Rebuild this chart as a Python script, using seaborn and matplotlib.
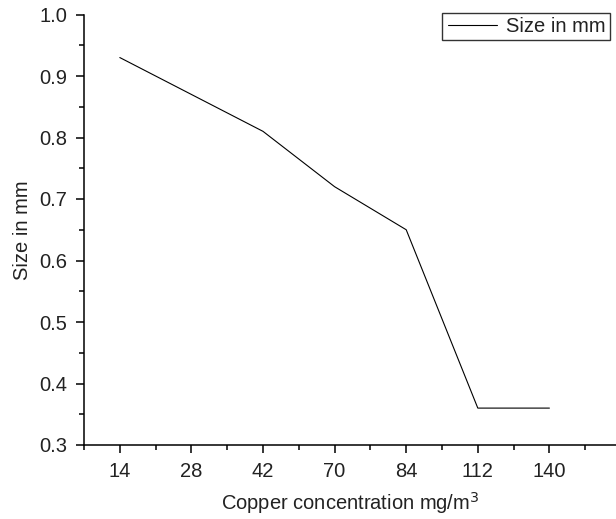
import matplotlib
matplotlib.use("Agg")
import matplotlib.pyplot as plt
import seaborn as sns
import numpy as np
import pandas as pd
from matplotlib.ticker import FixedLocator, MultipleLocator
from matplotlib.legend_handler import HandlerLine2D

concentration = ["14", "28", "42", "70", "84", "112", "140"]
size_mm = [0.93, 0.87, 0.81, 0.72, 0.65, 0.36, 0.36]
series_name = "Size in mm"

df = pd.DataFrame({"conc": concentration, "size": size_mm})

sns.set_theme(style="ticks")
plt.rcParams["font.family"] = ["Liberation Sans", "DejaVu Sans"]

FS = 14.5

fig = plt.figure(figsize=(6.16, 5.19), dpi=100)
ax = fig.add_axes([84 / 616, 1 - 445 / 519, 1 - 84 / 616, (445 - 14.5) / 519])

sns.lineplot(data=df, x="conc", y="size", ax=ax, color="black", linewidth=0.8,
             label=series_name, sort=False)

ax.set_xlim(-0.5, 6.93)
ax.set_ylim(0.3, 1.0)
ax.yaxis.set_minor_locator(MultipleLocator(0.05))
ax.xaxis.set_minor_locator(FixedLocator(np.arange(-0.5, 7.0, 1.0)))
ax.set_yticks([0.3, 0.4, 0.5, 0.6, 0.7, 0.8, 0.9, 1.0])
ax.set_yticklabels(["0.3", "0.4", "0.5", "0.6", "0.7", "0.8", "0.9", "1.0"])

for side in ["top", "right"]:
    ax.spines[side].set_visible(False)
for side in ["left", "bottom"]:
    ax.spines[side].set_linewidth(1.1)
    ax.spines[side].set_color("black")

ax.tick_params(which="major", direction="out", length=6, width=1.1, color="black",
               labelsize=FS, labelcolor="#222222")
ax.tick_params(axis="y", which="major", pad=6)
ax.tick_params(axis="x", which="major", pad=6)
ax.tick_params(which="minor", direction="out", length=3.5, width=1.1, color="black")

ax.set_xlabel("Copper concentration mg/m$^3$", fontsize=FS, color="#222222", labelpad=7)
ax.set_ylabel("Size in mm", fontsize=FS, color="#222222", labelpad=5)


class PaddedLine(HandlerLine2D):
    def get_xdata(self, legend, xdescent, ydescent, width, height, fontsize):
        x = np.array([-xdescent + 0.12 * fontsize, -xdescent + width])
        return x, x


leg = ax.legend(loc="upper left", bbox_to_anchor=(442 / 616, 1 - 13 / 519),
                bbox_transform=fig.transFigure, frameon=True, fancybox=False,
                fontsize=FS, handlelength=2.55, handletextpad=0.45,
                borderpad=0.2, borderaxespad=0,
                handler_map={matplotlib.lines.Line2D: PaddedLine()})
leg.get_frame().set_edgecolor("black")
leg.get_frame().set_linewidth(1.0)
for t in leg.get_texts():
    t.set_color("#222222")

fig.savefig("out.png", dpi=100)
